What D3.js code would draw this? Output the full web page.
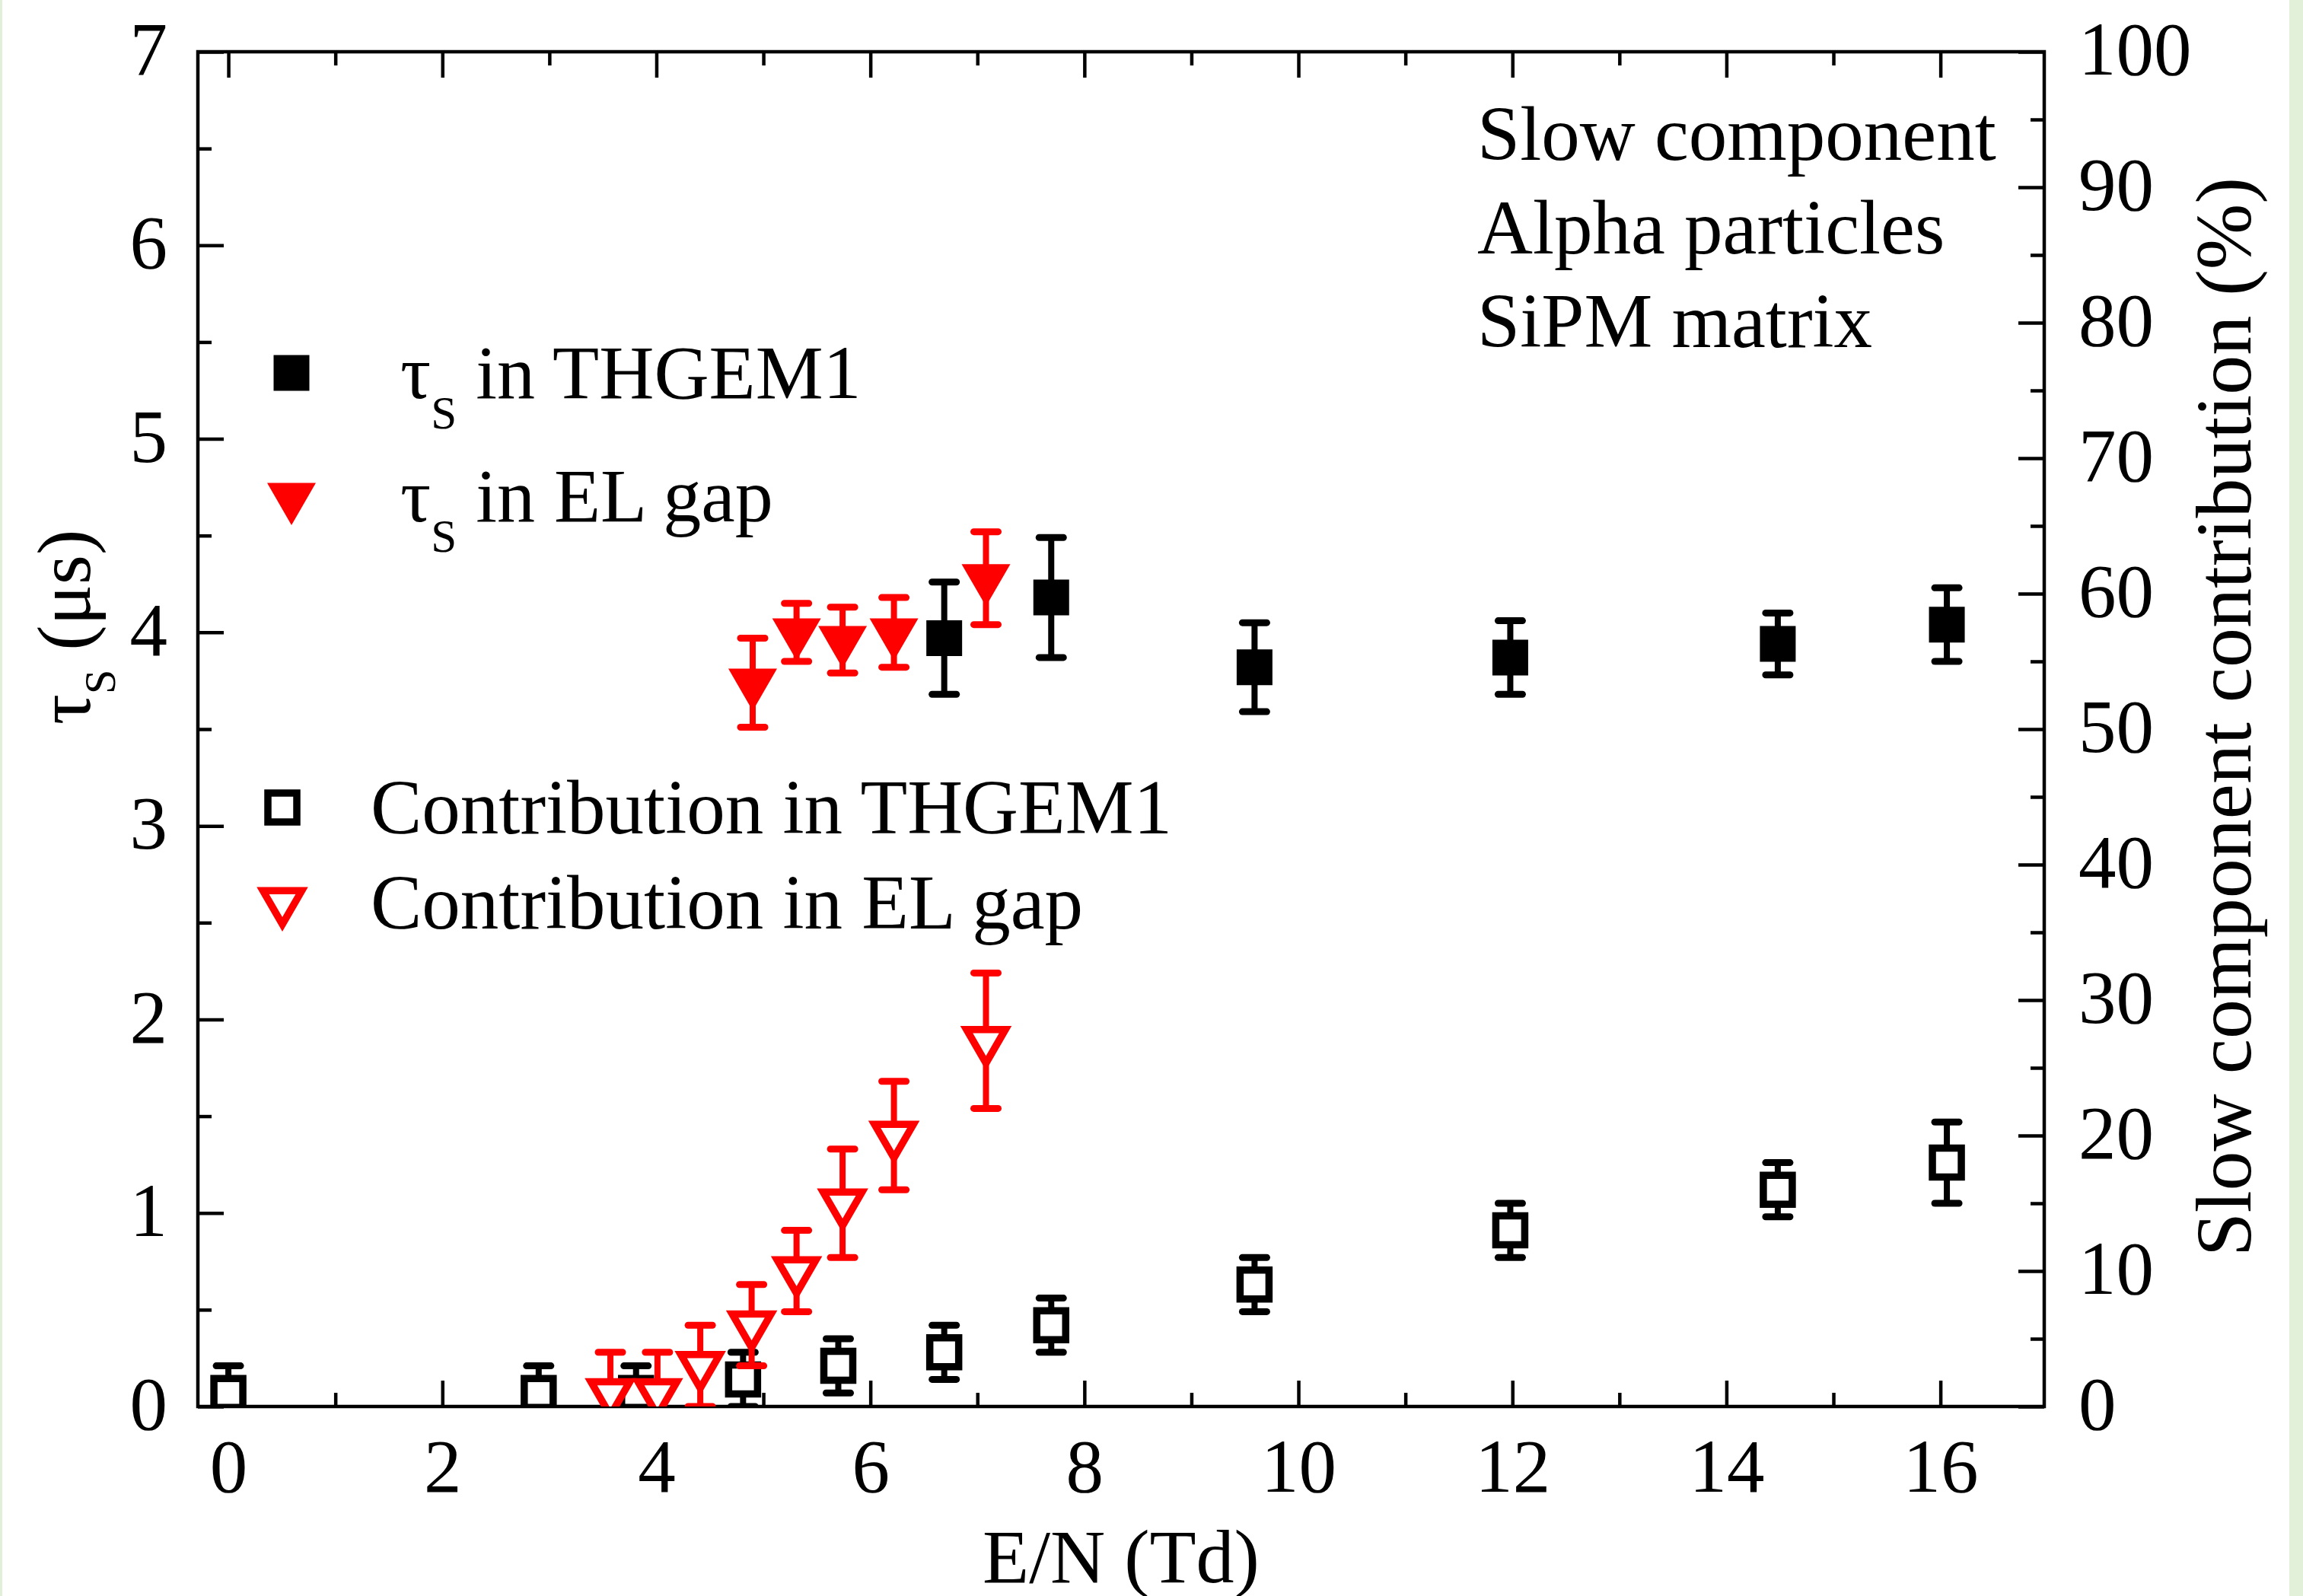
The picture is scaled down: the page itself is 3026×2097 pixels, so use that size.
<!DOCTYPE html>
<html>
<head>
<meta charset="utf-8">
<script src="https://cdn.jsdelivr.net/npm/d3@7"></script>
<style>
  body { margin: 0; background: #e2efd9; }
  svg { display: block; }
</style>
</head>
<body>
<svg id="chart"></svg>
<script>
// slow component decay time (left axis, us)
const tauThgemX = [6.69, 7.69, 9.59, 11.98, 14.48, 16.06];
const tauThgemY = [3.97, 4.18, 3.82, 3.87, 3.94, 4.04];
const tauThgemErr = [0.29, 0.31, 0.23, 0.19, 0.16, 0.19];

const tauElX = [4.9, 5.31, 5.74, 6.22, 7.08];
const tauElY = [3.74, 4.0, 3.96, 4.0, 4.28];
const tauElErr = [0.23, 0.15, 0.17, 0.18, 0.24];

// slow component contribution (right axis, %)
const contribThgemX = [0, 2.9, 3.81, 4.81, 5.7, 6.69, 7.69, 9.59, 11.98, 14.48, 16.06];
const contribThgemY = [1, 1, 1, 2, 3, 4, 6, 9, 13, 16, 18];
const contribThgemErr = [2, 2, 2, 2, 2, 2, 2, 2, 2, 2, 3];

const contribElX = [3.57, 4.01, 4.41, 4.89, 5.31, 5.74, 6.22, 7.08];
const contribElY = [1, 1, 3, 6, 10, 15, 20, 27];
const contribElErr = [3, 3, 3, 3, 3, 4, 4, 5];

const xTicks = [0, 2, 4, 6, 8, 10, 12, 14, 16];
const xMinorTicks = [1, 3, 5, 7, 9, 11, 13, 15];
const leftTicks = [0, 1, 2, 3, 4, 5, 6, 7];
const leftMinorTicks = [0.5, 1.5, 2.5, 3.5, 4.5, 5.5, 6.5];
const rightTicks = [0, 10, 20, 30, 40, 50, 60, 70, 80, 90, 100];
const rightMinorTicks = [5, 15, 25, 35, 45, 55, 65, 75, 85, 95];

const notes = ['Slow component', 'Alpha particles', 'SiPM matrix'];

const W = 3026, H = 2097;
const plot = { left: 260, right: 2686, top: 68, bottom: 1848 };
const FONT = '"Liberation Serif", "Times New Roman", serif';
const RED = '#ff0000';

const svg = d3.select('#chart').attr('width', W).attr('height', H);

svg.append('rect').attr('x', 0).attr('y', 0).attr('width', W).attr('height', H).attr('fill', '#e2efd9');
svg.append('rect').attr('x', 3).attr('y', 0).attr('width', 3005).attr('height', H).attr('fill', '#fff');

const x = d3.scaleLinear().domain([-0.285, 16.97]).range([plot.left, plot.right]);
const yL = d3.scaleLinear().domain([0, 7]).range([plot.bottom, plot.top]);
const yR = d3.scaleLinear().domain([0, 100]).range([plot.bottom, plot.top]);

const styleAxis = (g) => {
  g.select('.domain').remove();
  g.selectAll('line').attr('stroke', '#000').attr('stroke-width', 4.5);
  g.selectAll('text').attr('font-family', FONT).attr('font-size', 99).attr('fill', '#000');
};

const addAxis = (axis, tx, ty) => svg.append('g')
  .attr('transform', `translate(${tx},${ty})`)
  .call(axis)
  .call(styleAxis);

// bottom
addAxis(d3.axisBottom(x).tickValues(xTicks).tickSize(-34).tickPadding(42).tickFormat(d3.format('d')), 0, plot.bottom);
addAxis(d3.axisBottom(x).tickValues(xMinorTicks).tickSize(-18).tickFormat(''), 0, plot.bottom);
// top
addAxis(d3.axisTop(x).tickValues(xTicks).tickSize(-34).tickFormat(''), 0, plot.top);
addAxis(d3.axisTop(x).tickValues(xMinorTicks).tickSize(-18).tickFormat(''), 0, plot.top);
// left
addAxis(d3.axisLeft(yL).tickValues(leftTicks).tickSize(-34).tickPadding(40).tickFormat(d3.format('d')), plot.left, 0);
addAxis(d3.axisLeft(yL).tickValues(leftMinorTicks).tickSize(-18).tickFormat(''), plot.left, 0);
// right
addAxis(d3.axisRight(yR).tickValues(rightTicks).tickSize(-34).tickPadding(45).tickFormat(d3.format('d')), plot.right, 0);
addAxis(d3.axisRight(yR).tickValues(rightMinorTicks).tickSize(-18).tickFormat(''), plot.right, 0);

svg.selectAll('.tick text').attr('dy', function () {
  return d3.select(this).attr('dy') === '0.71em' ? '0.71em' : '0.3em';
});

// frame
svg.append('rect')
  .attr('x', plot.left).attr('y', plot.top)
  .attr('width', plot.right - plot.left).attr('height', plot.bottom - plot.top)
  .attr('fill', 'none').attr('stroke', '#000').attr('stroke-width', 4.5);

// data layer, clipped to the frame
svg.append('clipPath').attr('id', 'plot-clip')
  .append('rect')
  .attr('x', plot.left).attr('y', plot.top)
  .attr('width', plot.right - plot.left).attr('height', plot.bottom - plot.top);

const layer = svg.append('g').attr('clip-path', 'url(#plot-clip)');

const squareFilled = d3.symbol().type(d3.symbolSquare).size(47 * 47);
const squareOpen = d3.symbol().type(d3.symbolSquare).size(38 * 38);
const triFilled = d3.symbol().type(d3.symbolTriangle).size(1774);
const triOpen = d3.symbol().type(d3.symbolTriangle).size(1130);

const drawSeries = (xs, ys, errs, yScale, color, symbol, open, down) => {
  const g = layer.append('g');
  const pts = xs.map((v, i) => ({ x: x(v), y: yScale(ys[i]), hi: yScale(ys[i] + errs[i]), lo: yScale(ys[i] - errs[i]) }));

  pts.forEach((p) => {
    g.append('line')
      .attr('x1', p.x).attr('x2', p.x).attr('y1', p.hi).attr('y2', p.lo)
      .attr('stroke', color).attr('stroke-width', 8);
    [p.hi, p.lo].forEach((cy) => {
      g.append('line')
        .attr('x1', p.x - 16).attr('x2', p.x + 16).attr('y1', cy).attr('y2', cy)
        .attr('stroke', color).attr('stroke-width', 9).attr('stroke-linecap', 'round');
    });
  });

  pts.forEach((p) => {
    g.append('path')
      .attr('d', symbol())
      .attr('transform', `translate(${p.x},${p.y})${down ? ' rotate(180)' : ''}`)
      .attr('fill', open ? '#fff' : color)
      .attr('stroke', open ? color : 'none')
      .attr('stroke-width', open ? 9.5 : 0);
  });
};

drawSeries(contribThgemX, contribThgemY, contribThgemErr, yR, '#000', squareOpen, true, false);
drawSeries(contribElX, contribElY, contribElErr, yR, RED, triOpen, true, true);
drawSeries(tauThgemX, tauThgemY, tauThgemErr, yL, '#000', squareFilled, false, false);
drawSeries(tauElX, tauElY, tauElErr, yL, RED, triFilled, false, true);

// legend
const legend = svg.append('g').attr('font-family', FONT).attr('fill', '#000');

legend.append('path').attr('d', squareFilled()).attr('transform', 'translate(383,490)').attr('fill', '#000');
legend.append('path').attr('d', triFilled()).attr('transform', 'translate(383,653) rotate(180)').attr('fill', RED);
legend.append('path').attr('d', squareOpen()).attr('transform', 'translate(371,1061)')
  .attr('fill', '#fff').attr('stroke', '#000').attr('stroke-width', 9.5);
legend.append('path').attr('d', triOpen()).attr('transform', 'translate(371,1185) rotate(180)')
  .attr('fill', '#fff').attr('stroke', RED).attr('stroke-width', 9.5);

const tauLabel = (tx, ty, rest) => {
  const t = legend.append('text').attr('x', tx).attr('y', ty).attr('font-size', 100);
  t.append('tspan').text('τ');
  t.append('tspan').attr('font-size', 61).attr('dy', 40).text('S');
  t.append('tspan').attr('dy', -40).text(rest);
};
tauLabel(526, 523, '\u00a0in THGEM1');
tauLabel(526, 685, '\u00a0in EL gap');

legend.append('text').attr('x', 487).attr('y', 1095).attr('font-size', 101).text('Contribution in THGEM1');
legend.append('text').attr('x', 487).attr('y', 1220).attr('font-size', 101).text('Contribution in EL gap');

// notes in the upper right corner
svg.append('g').selectAll('text')
  .data(notes)
  .join('text')
  .attr('x', 1941)
  .attr('y', (d, i) => 210 + i * 123)
  .attr('font-family', FONT).attr('font-size', 101)
  .text((d) => d);

// axis titles
svg.append('text')
  .attr('x', plot.left + (plot.right - plot.left) / 2).attr('y', 2079)
  .attr('text-anchor', 'middle')
  .attr('font-family', FONT).attr('font-size', 100)
  .text('E/N (Td)');

const leftTitle = svg.append('text')
  .attr('transform', 'translate(118,824) rotate(-90)')
  .attr('text-anchor', 'middle')
  .attr('font-family', FONT).attr('font-size', 100);
leftTitle.append('tspan').text('τ');
leftTitle.append('tspan').attr('font-size', 58).attr('dy', 33).text('S');
leftTitle.append('tspan').attr('dy', -33).text('\u00a0(μs)');

svg.append('text')
  .attr('transform', 'translate(2957,942) rotate(-90)')
  .attr('text-anchor', 'middle')
  .attr('font-family', FONT).attr('font-size', 104)
  .text('Slow component contribution (%)');
</script>
</body>
</html>
